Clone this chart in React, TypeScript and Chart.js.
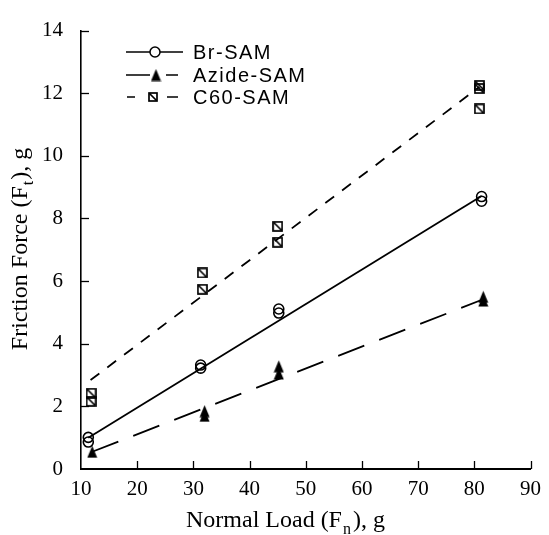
import React, { useEffect, useRef } from "react";
import { Chart, registerables } from "chart.js";

Chart.register(...registerables);

// Axis ticks
const xTickValues = [20, 30, 40, 50, 60, 70, 80, 90];
const yTickValues = [2, 4, 6, 8, 10, 12, 14];

// Br-SAM measurements
const brX = [11.3, 11.3, 31.3, 31.3, 45.2, 45.2, 81.3, 81.3];
const brY = [0.86, 1.01, 3.22, 3.32, 4.98, 5.11, 8.55, 8.7];
// Azide-SAM measurements
const azX = [12.0, 32.0, 32.0, 45.2, 45.2, 81.6, 81.6];
const azY = [0.55, 1.7, 1.85, 3.05, 3.28, 5.38, 5.5];
// C60-SAM measurements
const c60X = [11.8, 11.8, 31.6, 31.6, 45.0, 45.0, 80.9, 80.9, 80.9];
const c60Y = [2.16, 2.42, 5.74, 6.26, 7.24, 7.75, 11.5, 12.15, 12.25];

// Fitted lines (end points)
const brFitX = [11.3, 81.3];
const brFitY = [1.0, 8.72];
const azFitX = [12.0, 81.6];
const azFitY = [0.55, 5.42];
const c60FitX = [11.7, 80.9];
const c60FitY = [2.84, 12.2];

const legendLabels = ["Br-SAM", "Azide-SAM", "C60-SAM"];

const SERIF = '"Liberation Serif", "Times New Roman", serif';
const SANS = '"Liberation Sans", Arial, sans-serif';

const pts = (xs: number[], ys: number[]) => xs.map((x, i) => ({ x, y: ys[i] }));

function makeTriangle(): HTMLCanvasElement {
  const c = document.createElement("canvas");
  c.width = 11;
  c.height = 13;
  const g = c.getContext("2d")!;
  g.fillStyle = "#000";
  g.beginPath();
  g.moveTo(5.5, 0.5);
  g.lineTo(10.5, 12.5);
  g.lineTo(0.5, 12.5);
  g.closePath();
  g.fill();
  return c;
}

function makeSquare(size: number): HTMLCanvasElement {
  const c = document.createElement("canvas");
  c.width = size;
  c.height = size;
  const g = c.getContext("2d")!;
  g.strokeStyle = "#000";
  g.lineWidth = 1.7;
  g.strokeRect(1, 1, size - 2, size - 2);
  g.beginPath();
  g.moveTo(1.5, 1.5);
  g.lineTo(size - 1.5, size - 1.5);
  g.stroke();
  return c;
}

const decorPlugin = {
  id: "decor",
  afterDraw(chart: any) {
    const ctx: CanvasRenderingContext2D = chart.ctx;
    const xs = chart.scales.x;
    const ys = chart.scales.y;
    const { left, bottom } = chart.chartArea;
    ctx.save();
    ctx.strokeStyle = "#000";
    ctx.lineWidth = 1.3;
    // inward ticks
    yTickValues.forEach((v) => {
      const y = Math.round(ys.getPixelForValue(v)) + 0.5;
      ctx.beginPath();
      ctx.moveTo(left, y);
      ctx.lineTo(left + 8, y);
      ctx.stroke();
    });
    xTickValues.forEach((v) => {
      const x = Math.round(xs.getPixelForValue(v)) + 0.5;
      ctx.beginPath();
      ctx.moveTo(x, bottom);
      ctx.lineTo(x, bottom - 8);
      ctx.stroke();
    });

    // axis titles
    ctx.fillStyle = "#000";
    ctx.textBaseline = "alphabetic";
    ctx.textAlign = "left";
    const mainFont = `24px ${SERIF}`;
    const subFont = `16px ${SERIF}`;
    // x title
    {
      ctx.font = mainFont;
      const a = "Normal Load (F";
      const b = "), g";
      const wa = ctx.measureText(a).width;
      ctx.font = subFont;
      const ws = ctx.measureText("n").width;
      let x = 186;
      const base = 527;
      ctx.font = mainFont;
      ctx.fillText(a, x, base);
      x += wa + 1;
      ctx.font = subFont;
      ctx.fillText("n", x, base + 7);
      x += ws + 2;
      ctx.font = mainFont;
      ctx.fillText(b, x, base);
    }
    // y title
    {
      ctx.save();
      ctx.translate(20, 249);
      ctx.rotate(-Math.PI / 2);
      ctx.font = mainFont;
      const a = "Friction Force (F";
      const b = "), g";
      const wa = ctx.measureText(a).width;
      const wb = ctx.measureText(b).width;
      ctx.font = subFont;
      const ws = ctx.measureText("t").width;
      const total = wa + ws + wb + 2;
      let x = -total / 2;
      const base = 7;
      ctx.font = mainFont;
      ctx.fillText(a, x, base);
      x += wa + 1;
      ctx.font = subFont;
      ctx.fillText("t", x, base + 6);
      x += ws + 1;
      ctx.font = mainFont;
      ctx.fillText(b, x, base);
      ctx.restore();
    }

    // legend
    const rows = [52, 75, 97];
    ctx.lineWidth = 1.5;
    // row 1
    ctx.beginPath();
    ctx.moveTo(126, rows[0]);
    ctx.lineTo(183, rows[0]);
    ctx.stroke();
    ctx.beginPath();
    ctx.arc(155, rows[0], 5, 0, Math.PI * 2);
    ctx.fillStyle = "#fff";
    ctx.fill();
    ctx.stroke();
    // row 2
    ctx.beginPath();
    ctx.moveTo(126, rows[1]);
    ctx.lineTo(150, rows[1]);
    ctx.moveTo(166, rows[1]);
    ctx.lineTo(178, rows[1]);
    ctx.stroke();
    const tri = makeTriangle();
    ctx.drawImage(tri, 156 - tri.width / 2, rows[1] - tri.height / 2);
    // row 3
    ctx.beginPath();
    ctx.moveTo(127, rows[2]);
    ctx.lineTo(135, rows[2]);
    ctx.moveTo(167, rows[2]);
    ctx.lineTo(178, rows[2]);
    ctx.stroke();
    const sq = makeSquare(10);
    ctx.drawImage(sq, 153 - 5, rows[2] - 5);
    // labels
    ctx.fillStyle = "#000";
    ctx.font = `20px ${SANS}`;
    (ctx as any).letterSpacing = "1.5px";
    ctx.textBaseline = "middle";
    legendLabels.forEach((t, i) => ctx.fillText(t, 193, rows[i] + 1));
    ctx.restore();
  },
};

export default function App() {
  const ref = useRef<HTMLCanvasElement | null>(null);
  useEffect(() => {
    document.body.style.margin = "0";
    const canvas = ref.current!;
    const tri = makeTriangle();
    const sq = makeSquare(11);
    const chart = new Chart(canvas, {
      type: "scatter",
      data: {
        datasets: [
          {
            label: "Br-SAM fit",
            data: pts(brFitX, brFitY),
            showLine: true,
            borderColor: "#000",
            borderWidth: 1.8,
            pointRadius: 0,
            order: 2,
          },
          {
            label: "Azide-SAM fit",
            data: pts(azFitX, azFitY),
            showLine: true,
            borderColor: "#000",
            borderWidth: 1.8,
            borderDash: [28, 16],
            pointRadius: 0,
            order: 2,
          },
          {
            label: "C60-SAM fit",
            data: pts(c60FitX, c60FitY),
            showLine: true,
            borderColor: "#000",
            borderWidth: 1.8,
            borderDash: [11, 10],
            pointRadius: 0,
            order: 2,
          },
          {
            label: "Br-SAM",
            data: pts(brX, brY),
            pointStyle: "circle",
            pointRadius: 5,
            pointBorderWidth: 1.6,
            borderColor: "#000",
            backgroundColor: "rgba(0,0,0,0)",
            order: 1,
          },
          {
            label: "Azide-SAM",
            data: pts(azX, azY),
            pointStyle: tri,
            pointRadius: 6,
            borderColor: "#000",
            backgroundColor: "#000",
            order: 1,
          },
          {
            label: "C60-SAM",
            data: pts(c60X, c60Y),
            pointStyle: sq,
            pointRadius: 6,
            borderColor: "#000",
            backgroundColor: "#fff",
            order: 1,
          },
        ],
      },
      options: {
        responsive: false,
        animation: false,
        layout: { padding: { top: 22, right: 15, bottom: 0, left: 0 } },
        plugins: {
          legend: { display: false },
          tooltip: { enabled: false },
        },
        scales: {
          x: {
            type: "linear",
            min: 10,
            max: 90,
            ticks: {
              stepSize: 10,
              color: "#000",
              padding: 8,
              font: { family: SERIF, size: 21 },
            },
            grid: { display: false, drawTicks: false },
            border: { display: true, color: "#000", width: 2 },
            afterFit: (s: any) => {
              s.height = 66;
            },
          },
          y: {
            type: "linear",
            min: 0,
            max: 14,
            ticks: {
              stepSize: 2,
              color: "#000",
              padding: 18,
              font: { family: SERIF, size: 21 },
            },
            grid: { display: false, drawTicks: false },
            border: { display: true, color: "#000", width: 1.6 },
            afterFit: (s: any) => {
              s.width = 81;
            },
          },
        },
      },
      plugins: [decorPlugin],
    } as any);
    return () => chart.destroy();
  }, []);
  return <canvas ref={ref} width={549} height={535} style={{ display: "block" }} />;
}
